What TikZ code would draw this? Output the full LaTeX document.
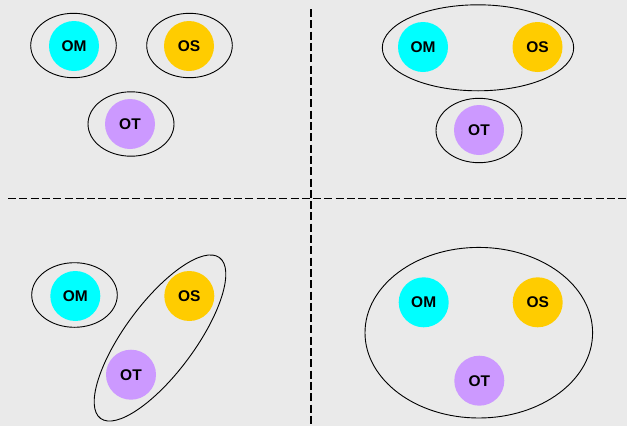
\documentclass[tikz,border=0pt]{standalone}
\usepackage{fontspec}
\setmainfont{Liberation Sans}
\definecolor{bgc}{HTML}{EAEAEA}
\definecolor{omc}{HTML}{00FFFF}
\definecolor{osc}{HTML}{FFCC00}
\definecolor{otc}{HTML}{CC99FF}
\begin{document}
\begin{tikzpicture}[x=1pt,y=-1pt,
  ball/.style={circle,minimum size=50pt,inner sep=0pt,font=\fontsize{15.5}{18}\selectfont\bfseries},
  om/.style={ball,fill=omc},
  os/.style={ball,fill=osc},
  ot/.style={ball,fill=otc},
  ring/.style={draw=black,line width=0.9pt},
  sep/.style={draw=black,line width=1.6pt,dash pattern=on 8pt off 3.3pt}]
\fill[bgc] (0,0) rectangle (627,426);
\useasboundingbox (0,0) rectangle (627,426);
% separators
\coordinate (vt) at (311,9);
\coordinate (vb) at (311,426);
\coordinate (hl) at (8,198.5);
\coordinate (hr) at (627,198.5);
\draw[sep] (vt) -- (vb);
\draw[sep] (hl) -- (hr);
% panel 1
\node[om] (om1) at (74,46) {OM};
\node[os] (os1) at (189,46) {OS};
\node[ot] (ot1) at (130,124) {OT};
\draw[ring] (73.5,45.5) ellipse [x radius=42.8pt, y radius=32.2pt];
\draw[ring] (189.5,45.5) ellipse [x radius=42.8pt, y radius=32.2pt];
\draw[ring] (131,124) ellipse [x radius=43pt, y radius=32.2pt];
% panel 2
\node[om] (om2) at (423,47) {OM};
\node[os] (os2) at (537.5,47) {OS};
\node[ot] (ot2) at (479,130) {OT};
\draw[ring] (478,47.8) ellipse [x radius=95.7pt, y radius=43pt];
\draw[ring] (479,130.5) ellipse [x radius=43pt, y radius=32.2pt];
% panel 3
\node[om] (om3) at (75.3,296) {OM};
\node[os] (os3) at (189.3,296) {OS};
\node[ot] (ot3) at (131,374.7) {OT};
\draw[ring] (74.5,295) ellipse [x radius=42.8pt, y radius=32.3pt];
\draw[ring,rotate around={53.5:(160,338)}] (160,338) ellipse [x radius=100pt, y radius=35pt];
% panel 4
\node[om] (om4) at (423.7,302.3) {OM};
\node[os] (os4) at (537.7,302.3) {OS};
\node[ot] (ot4) at (479.3,380.7) {OT};
\draw[ring] (478.8,332.7) ellipse [x radius=113.8pt, y radius=85.3pt];
\end{tikzpicture}
\end{document}
